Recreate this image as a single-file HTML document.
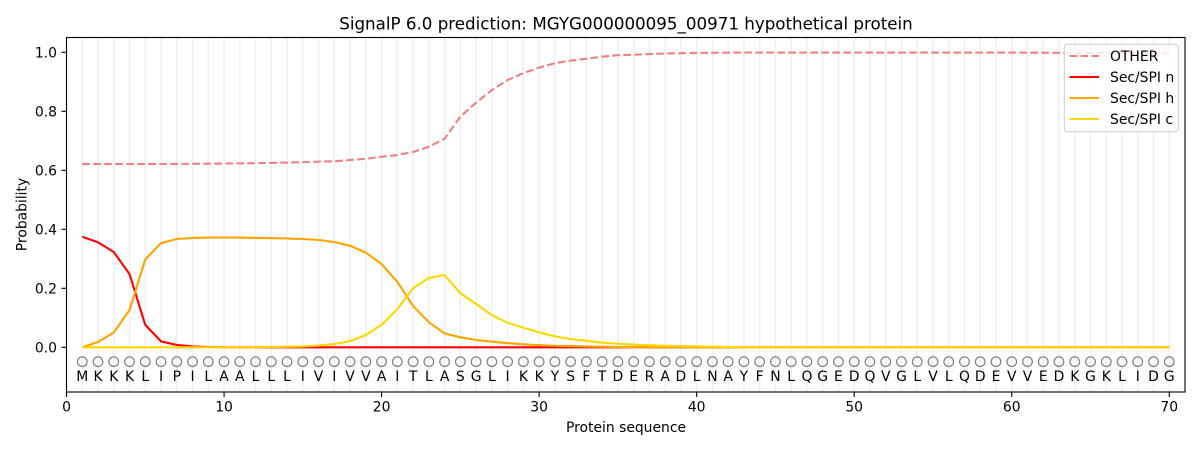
<!DOCTYPE html>
<html><head><meta charset="utf-8"><style>
html,body{margin:0;padding:0;background:#fff;}
svg{display:block;font-family:"DejaVu Sans","Liberation Sans",sans-serif;}
</style></head><body>
<svg width="1200" height="450" viewBox="0 0 1200 450" xmlns="http://www.w3.org/2000/svg">
<rect x="0" y="0" width="1200" height="450" fill="#fff"/>
<text x="626" y="29.5" font-size="16.7" text-anchor="middle" fill="#000">SignalP 6.0 prediction: MGYG000000095_00971 hypothetical protein</text>
<g stroke="#efefef" stroke-width="1.5">
<line x1="82.25" y1="37" x2="82.25" y2="392"/><line x1="98.01" y1="37" x2="98.01" y2="392"/><line x1="113.76" y1="37" x2="113.76" y2="392"/><line x1="129.52" y1="37" x2="129.52" y2="392"/><line x1="145.27" y1="37" x2="145.27" y2="392"/><line x1="161.02" y1="37" x2="161.02" y2="392"/><line x1="176.78" y1="37" x2="176.78" y2="392"/><line x1="192.53" y1="37" x2="192.53" y2="392"/><line x1="208.29" y1="37" x2="208.29" y2="392"/><line x1="224.04" y1="37" x2="224.04" y2="392"/><line x1="239.79" y1="37" x2="239.79" y2="392"/><line x1="255.55" y1="37" x2="255.55" y2="392"/><line x1="271.30" y1="37" x2="271.30" y2="392"/><line x1="287.06" y1="37" x2="287.06" y2="392"/><line x1="302.81" y1="37" x2="302.81" y2="392"/><line x1="318.56" y1="37" x2="318.56" y2="392"/><line x1="334.32" y1="37" x2="334.32" y2="392"/><line x1="350.07" y1="37" x2="350.07" y2="392"/><line x1="365.83" y1="37" x2="365.83" y2="392"/><line x1="381.58" y1="37" x2="381.58" y2="392"/><line x1="397.33" y1="37" x2="397.33" y2="392"/><line x1="413.09" y1="37" x2="413.09" y2="392"/><line x1="428.84" y1="37" x2="428.84" y2="392"/><line x1="444.60" y1="37" x2="444.60" y2="392"/><line x1="460.35" y1="37" x2="460.35" y2="392"/><line x1="476.10" y1="37" x2="476.10" y2="392"/><line x1="491.86" y1="37" x2="491.86" y2="392"/><line x1="507.61" y1="37" x2="507.61" y2="392"/><line x1="523.37" y1="37" x2="523.37" y2="392"/><line x1="539.12" y1="37" x2="539.12" y2="392"/><line x1="554.87" y1="37" x2="554.87" y2="392"/><line x1="570.63" y1="37" x2="570.63" y2="392"/><line x1="586.38" y1="37" x2="586.38" y2="392"/><line x1="602.14" y1="37" x2="602.14" y2="392"/><line x1="617.89" y1="37" x2="617.89" y2="392"/><line x1="633.64" y1="37" x2="633.64" y2="392"/><line x1="649.40" y1="37" x2="649.40" y2="392"/><line x1="665.15" y1="37" x2="665.15" y2="392"/><line x1="680.91" y1="37" x2="680.91" y2="392"/><line x1="696.66" y1="37" x2="696.66" y2="392"/><line x1="712.41" y1="37" x2="712.41" y2="392"/><line x1="728.17" y1="37" x2="728.17" y2="392"/><line x1="743.92" y1="37" x2="743.92" y2="392"/><line x1="759.68" y1="37" x2="759.68" y2="392"/><line x1="775.43" y1="37" x2="775.43" y2="392"/><line x1="791.18" y1="37" x2="791.18" y2="392"/><line x1="806.94" y1="37" x2="806.94" y2="392"/><line x1="822.69" y1="37" x2="822.69" y2="392"/><line x1="838.45" y1="37" x2="838.45" y2="392"/><line x1="854.20" y1="37" x2="854.20" y2="392"/><line x1="869.95" y1="37" x2="869.95" y2="392"/><line x1="885.71" y1="37" x2="885.71" y2="392"/><line x1="901.46" y1="37" x2="901.46" y2="392"/><line x1="917.22" y1="37" x2="917.22" y2="392"/><line x1="932.97" y1="37" x2="932.97" y2="392"/><line x1="948.72" y1="37" x2="948.72" y2="392"/><line x1="964.48" y1="37" x2="964.48" y2="392"/><line x1="980.23" y1="37" x2="980.23" y2="392"/><line x1="995.99" y1="37" x2="995.99" y2="392"/><line x1="1011.74" y1="37" x2="1011.74" y2="392"/><line x1="1027.49" y1="37" x2="1027.49" y2="392"/><line x1="1043.25" y1="37" x2="1043.25" y2="392"/><line x1="1059.00" y1="37" x2="1059.00" y2="392"/><line x1="1074.76" y1="37" x2="1074.76" y2="392"/><line x1="1090.51" y1="37" x2="1090.51" y2="392"/><line x1="1106.26" y1="37" x2="1106.26" y2="392"/><line x1="1122.02" y1="37" x2="1122.02" y2="392"/><line x1="1137.77" y1="37" x2="1137.77" y2="392"/><line x1="1153.53" y1="37" x2="1153.53" y2="392"/><line x1="1169.28" y1="37" x2="1169.28" y2="392"/>
</g>
<!-- OTHER -->
<polyline fill="none" stroke="#f08080" stroke-width="2.1" stroke-dasharray="7.7,3.3" points="82.25,164.1 145.27,164.1 192.53,163.8 224.04,163.5 255.55,163.2 287.06,162.6 302.81,162.0 318.56,161.7 334.32,161.2 350.07,160.0 365.83,158.8 381.58,156.7 397.33,155.0 413.09,152.0 428.84,146.7 444.60,138.7 460.35,116.6 476.10,102.7 491.86,90.1 507.61,80.0 523.37,73.2 539.12,67.6 554.87,63.2 570.63,60.6 586.38,58.8 602.14,56.7 617.89,55.2 633.64,54.7 649.40,54.1 665.15,53.5 680.91,53.2 696.66,52.9 728.17,52.6 1011.74,52.6 1090.51,52.9 1169.28,53.2"/>
<!-- n -->
<polyline fill="none" stroke="#ff0000" stroke-width="2.1" points="82.25,236.7 98.01,242.3 113.76,252.0 129.52,274.1 145.27,324.9 161.02,341.4 176.78,344.9 192.53,346.4 208.29,347.0 224.04,347.3 1169.28,347.3"/>
<!-- h -->
<polyline fill="none" stroke="#ffa500" stroke-width="2.1" points="82.25,347.3 98.01,342.0 113.76,332.5 129.52,310.1 145.27,259.4 161.02,243.2 176.78,239.0 192.53,237.9 208.29,237.6 224.04,237.6 239.79,237.6 255.55,237.9 271.30,238.2 287.06,238.4 302.81,239.0 318.56,239.9 334.32,242.0 350.07,245.8 365.83,252.6 381.58,264.1 397.33,281.8 413.09,306.0 428.84,322.2 444.60,333.4 460.35,337.3 476.10,339.9 491.86,341.7 507.61,343.2 523.37,344.3 539.12,345.2 554.87,345.8 570.63,346.1 586.38,346.4 602.14,346.7 617.89,347.0 633.64,347.3 1169.28,347.3"/>
<!-- c -->
<polyline fill="none" stroke="#ffd700" stroke-width="2.1" points="82.25,347.3 255.55,347.3 271.30,347.0 287.06,346.7 302.81,346.4 318.56,345.5 334.32,344.1 350.07,341.1 365.83,334.9 381.58,324.9 397.33,309.2 413.09,288.3 428.84,278.0 444.60,275.0 460.35,293.3 476.10,303.9 491.86,315.1 507.61,322.8 523.37,327.8 539.12,332.3 554.87,336.4 570.63,339.0 586.38,340.8 602.14,342.6 617.89,343.8 633.64,344.6 649.40,345.2 665.15,345.8 680.91,346.1 696.66,346.4 712.41,346.7 728.17,347.0 743.92,347.3 1169.28,347.3"/>
<!-- circles -->
<g fill="none" stroke="#808080" stroke-width="1.2">
<circle cx="82.25" cy="361.7" r="4.8"/><circle cx="98.01" cy="361.7" r="4.8"/><circle cx="113.76" cy="361.7" r="4.8"/><circle cx="129.52" cy="361.7" r="4.8"/><circle cx="145.27" cy="361.7" r="4.8"/><circle cx="161.02" cy="361.7" r="4.8"/><circle cx="176.78" cy="361.7" r="4.8"/><circle cx="192.53" cy="361.7" r="4.8"/><circle cx="208.29" cy="361.7" r="4.8"/><circle cx="224.04" cy="361.7" r="4.8"/><circle cx="239.79" cy="361.7" r="4.8"/><circle cx="255.55" cy="361.7" r="4.8"/><circle cx="271.30" cy="361.7" r="4.8"/><circle cx="287.06" cy="361.7" r="4.8"/><circle cx="302.81" cy="361.7" r="4.8"/><circle cx="318.56" cy="361.7" r="4.8"/><circle cx="334.32" cy="361.7" r="4.8"/><circle cx="350.07" cy="361.7" r="4.8"/><circle cx="365.83" cy="361.7" r="4.8"/><circle cx="381.58" cy="361.7" r="4.8"/><circle cx="397.33" cy="361.7" r="4.8"/><circle cx="413.09" cy="361.7" r="4.8"/><circle cx="428.84" cy="361.7" r="4.8"/><circle cx="444.60" cy="361.7" r="4.8"/><circle cx="460.35" cy="361.7" r="4.8"/><circle cx="476.10" cy="361.7" r="4.8"/><circle cx="491.86" cy="361.7" r="4.8"/><circle cx="507.61" cy="361.7" r="4.8"/><circle cx="523.37" cy="361.7" r="4.8"/><circle cx="539.12" cy="361.7" r="4.8"/><circle cx="554.87" cy="361.7" r="4.8"/><circle cx="570.63" cy="361.7" r="4.8"/><circle cx="586.38" cy="361.7" r="4.8"/><circle cx="602.14" cy="361.7" r="4.8"/><circle cx="617.89" cy="361.7" r="4.8"/><circle cx="633.64" cy="361.7" r="4.8"/><circle cx="649.40" cy="361.7" r="4.8"/><circle cx="665.15" cy="361.7" r="4.8"/><circle cx="680.91" cy="361.7" r="4.8"/><circle cx="696.66" cy="361.7" r="4.8"/><circle cx="712.41" cy="361.7" r="4.8"/><circle cx="728.17" cy="361.7" r="4.8"/><circle cx="743.92" cy="361.7" r="4.8"/><circle cx="759.68" cy="361.7" r="4.8"/><circle cx="775.43" cy="361.7" r="4.8"/><circle cx="791.18" cy="361.7" r="4.8"/><circle cx="806.94" cy="361.7" r="4.8"/><circle cx="822.69" cy="361.7" r="4.8"/><circle cx="838.45" cy="361.7" r="4.8"/><circle cx="854.20" cy="361.7" r="4.8"/><circle cx="869.95" cy="361.7" r="4.8"/><circle cx="885.71" cy="361.7" r="4.8"/><circle cx="901.46" cy="361.7" r="4.8"/><circle cx="917.22" cy="361.7" r="4.8"/><circle cx="932.97" cy="361.7" r="4.8"/><circle cx="948.72" cy="361.7" r="4.8"/><circle cx="964.48" cy="361.7" r="4.8"/><circle cx="980.23" cy="361.7" r="4.8"/><circle cx="995.99" cy="361.7" r="4.8"/><circle cx="1011.74" cy="361.7" r="4.8"/><circle cx="1027.49" cy="361.7" r="4.8"/><circle cx="1043.25" cy="361.7" r="4.8"/><circle cx="1059.00" cy="361.7" r="4.8"/><circle cx="1074.76" cy="361.7" r="4.8"/><circle cx="1090.51" cy="361.7" r="4.8"/><circle cx="1106.26" cy="361.7" r="4.8"/><circle cx="1122.02" cy="361.7" r="4.8"/><circle cx="1137.77" cy="361.7" r="4.8"/><circle cx="1153.53" cy="361.7" r="4.8"/><circle cx="1169.28" cy="361.7" r="4.8"/>
</g>
<!-- residues -->
<g font-size="13.9" text-anchor="middle" fill="#000">
<text x="82.25" y="381">M</text><text x="98.01" y="381">K</text><text x="113.76" y="381">K</text><text x="129.52" y="381">K</text><text x="145.27" y="381">L</text><text x="161.02" y="381">I</text><text x="176.78" y="381">P</text><text x="192.53" y="381">I</text><text x="208.29" y="381">L</text><text x="224.04" y="381">A</text><text x="239.79" y="381">A</text><text x="255.55" y="381">L</text><text x="271.30" y="381">L</text><text x="287.06" y="381">L</text><text x="302.81" y="381">I</text><text x="318.56" y="381">V</text><text x="334.32" y="381">I</text><text x="350.07" y="381">V</text><text x="365.83" y="381">V</text><text x="381.58" y="381">A</text><text x="397.33" y="381">I</text><text x="413.09" y="381">T</text><text x="428.84" y="381">L</text><text x="444.60" y="381">A</text><text x="460.35" y="381">S</text><text x="476.10" y="381">G</text><text x="491.86" y="381">L</text><text x="507.61" y="381">I</text><text x="523.37" y="381">K</text><text x="539.12" y="381">K</text><text x="554.87" y="381">Y</text><text x="570.63" y="381">S</text><text x="586.38" y="381">F</text><text x="602.14" y="381">T</text><text x="617.89" y="381">D</text><text x="633.64" y="381">E</text><text x="649.40" y="381">R</text><text x="665.15" y="381">A</text><text x="680.91" y="381">D</text><text x="696.66" y="381">L</text><text x="712.41" y="381">N</text><text x="728.17" y="381">A</text><text x="743.92" y="381">Y</text><text x="759.68" y="381">F</text><text x="775.43" y="381">N</text><text x="791.18" y="381">L</text><text x="806.94" y="381">Q</text><text x="822.69" y="381">G</text><text x="838.45" y="381">E</text><text x="854.20" y="381">D</text><text x="869.95" y="381">Q</text><text x="885.71" y="381">V</text><text x="901.46" y="381">G</text><text x="917.22" y="381">L</text><text x="932.97" y="381">V</text><text x="948.72" y="381">L</text><text x="964.48" y="381">Q</text><text x="980.23" y="381">D</text><text x="995.99" y="381">E</text><text x="1011.74" y="381">V</text><text x="1027.49" y="381">V</text><text x="1043.25" y="381">E</text><text x="1059.00" y="381">D</text><text x="1074.76" y="381">K</text><text x="1090.51" y="381">G</text><text x="1106.26" y="381">K</text><text x="1122.02" y="381">L</text><text x="1137.77" y="381">I</text><text x="1153.53" y="381">D</text><text x="1169.28" y="381">G</text>
</g>
<!-- axes frame -->
<rect x="66.5" y="37.5" width="1118.5" height="354.5" fill="none" stroke="#000" stroke-width="1.1"/>
<!-- x ticks -->
<g stroke="#000" stroke-width="1.1">
<line x1="66.5" y1="392" x2="66.5" y2="397"/><line x1="224.04" y1="392" x2="224.04" y2="397"/><line x1="381.58" y1="392" x2="381.58" y2="397"/><line x1="539.12" y1="392" x2="539.12" y2="397"/><line x1="696.66" y1="392" x2="696.66" y2="397"/><line x1="854.20" y1="392" x2="854.20" y2="397"/><line x1="1011.74" y1="392" x2="1011.74" y2="397"/><line x1="1169.28" y1="392" x2="1169.28" y2="397"/>
<line x1="61.5" y1="347.3" x2="66.5" y2="347.3"/><line x1="61.5" y1="288.3" x2="66.5" y2="288.3"/><line x1="61.5" y1="229.3" x2="66.5" y2="229.3"/><line x1="61.5" y1="170.3" x2="66.5" y2="170.3"/><line x1="61.5" y1="111.3" x2="66.5" y2="111.3"/><line x1="61.5" y1="52.3" x2="66.5" y2="52.3"/>
</g>
<g font-size="13.9" text-anchor="middle" fill="#000">
<text x="66.5" y="411.7">0</text><text x="224.04" y="411.7">10</text><text x="381.58" y="411.7">20</text><text x="539.12" y="411.7">30</text><text x="696.66" y="411.7">40</text><text x="854.20" y="411.7">50</text><text x="1011.74" y="411.7">60</text><text x="1169.28" y="411.7">70</text>
</g>
<g font-size="13.9" text-anchor="end" fill="#000">
<text x="57" y="352.3">0.0</text><text x="57" y="293.3">0.2</text><text x="57" y="234.3">0.4</text><text x="57" y="175.3">0.6</text><text x="57" y="116.3">0.8</text><text x="57" y="57.3">1.0</text>
</g>
<text x="626" y="432" font-size="13.9" text-anchor="middle" fill="#000">Protein sequence</text>
<text transform="translate(26.5,214.5) rotate(-90)" font-size="13.9" text-anchor="middle" fill="#000">Probability</text>
<!-- legend -->
<rect x="1064.3" y="44.3" width="114" height="87.4" rx="3" ry="3" fill="#fff" fill-opacity="0.8" stroke="#cccccc" stroke-width="1"/>
<line x1="1069.5" y1="56" x2="1099" y2="56" stroke="#f08080" stroke-width="2.1" stroke-dasharray="7.7,3.3"/>
<line x1="1069.5" y1="77" x2="1099" y2="77" stroke="#ff0000" stroke-width="2.1"/>
<line x1="1069.5" y1="98" x2="1099" y2="98" stroke="#ffa500" stroke-width="2.1"/>
<line x1="1069.5" y1="119" x2="1099" y2="119" stroke="#ffd700" stroke-width="2.1"/>
<g font-size="13.9" fill="#000">
<text x="1110" y="61">OTHER</text>
<text x="1110" y="82">Sec/SPI n</text>
<text x="1110" y="103">Sec/SPI h</text>
<text x="1110" y="124">Sec/SPI c</text>
</g>
</svg>
</body></html>
